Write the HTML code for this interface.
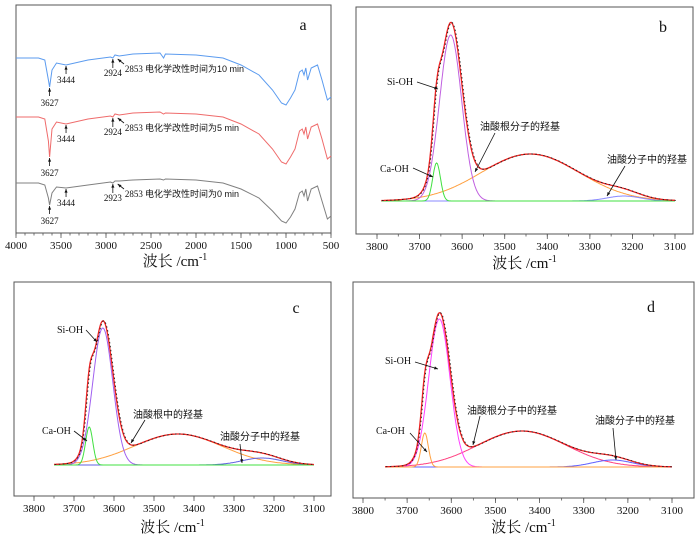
<!DOCTYPE html>
<html><head><meta charset="utf-8">
<style>
html,body{margin:0;padding:0;background:#fff;}
svg{display:block;}
text{font-family:"Liberation Serif","Noto Serif CJK SC","Noto Sans CJK SC",serif;fill:#111;}
.cn{font-family:"Liberation Sans","Noto Sans CJK SC",sans-serif;}
</style></head>
<body>
<svg id="fig" width="700" height="540" viewBox="0 0 700 540" xmlns="http://www.w3.org/2000/svg"></svg>
<script>
// ---------- Panel a data ----------
const aWave = [4000,3750,3680,3640,3627,3600,3550,3444,3200,2950,2924,2900,2853,2700,2400,2360,2340,2000,1700,1500,1300,1150,1050,1000,950,900,850,820,800,780,760,720,650,600,540,500];
const aBlue = [175,175,173,153,146,163,170,168,173,176,175,178,177,179,180,175,179,178,175,168,158,143,130,128,135,143,161,163,158,165,153,165,168,153,133,136];
const aRed  = [116,116,114,92,76,104,111,109,114,117,116,119,118,120,121,119,120,119,116,109,99,84,71,69,76,84,102,104,99,106,94,106,109,94,74,77];
const aGray = [50,50,48,35,28,40,46,45,48,51,50,52,52,53,54,53,54,53,50,44,35,22,12,10,16,24,40,42,37,44,32,44,47,32,14,17];
const aTicks = [4000,3500,3000,2500,2000,1500,1000,500];
const fitTicks = [3800,3700,3600,3500,3400,3300,3200,3100];
// ---------- Fit panels: peak centers, heights, widths ----------
const bCenters = [3627,3660,3440,3220];
const bHeights = [166,38,47,5];
const bWidths  = [26,9,115,40];
const cCenters = [3628,3662,3440,3230];
const cHeights = [137,38,31,7];
const cWidths  = [25,9,110,50];
const dCenters = [3627,3660,3440,3235];
const dHeights = [148,34,36,7];
const dWidths  = [24,8,100,45];

const NS='http://www.w3.org/2000/svg';
const svg=document.getElementById('fig');
function mk(tag,attrs,parent){const e=document.createElementNS(NS,tag);for(const k in attrs)e.setAttribute(k,attrs[k]);(parent||svg).appendChild(e);return e;}
function lin(d0,d1,r0,r1){return v=>r0+(v-d0)*(r1-r0)/(d1-d0);}
function txt(x,y,s,size,parent,anchor,cls){const t=mk('text',{x:x,y:y,'font-size':size,'text-anchor':anchor||'start'},parent);if(cls)t.setAttribute('class',cls);t.textContent=s;return t;}
function arrow(x1,y1,x2,y2,g){
  const l=mk('line',{x1:x1,y1:y1,x2:x2,y2:y2,stroke:'#111','stroke-width':0.8},g);
  
  
  const a=Math.atan2(y2-y1,x2-x1),s=4;
  const p=mk('polygon',{points:`${x2},${y2} ${x2-s*Math.cos(a-0.4)},${y2-s*Math.sin(a-0.4)} ${x2-s*Math.cos(a+0.4)},${y2-s*Math.sin(a+0.4)}`,fill:'#111'},g);
  
  
}
function frame(g,x0,y0,x1,y1,xs,ticks,minorStep,lo,hi){
  const r=mk('rect',{x:x0,y:y0,width:x1-x0,height:y1-y0,fill:'none',stroke:'#555','stroke-width':1},g);
  
  
  const ax=mk('g',{},g);
  
  
  for(let v=lo;v>=hi;v-=minorStep){mk('line',{x1:xs(v),x2:xs(v),y1:y1,y2:y1+2.5,stroke:'#555','stroke-width':0.8},ax);}
  ticks.forEach(v=>{mk('line',{x1:xs(v),x2:xs(v),y1:y1,y2:y1+5,stroke:'#555','stroke-width':0.8},ax);
    const t=txt(xs(v),y1+16,String(v),11,ax,'middle');
    
    });
}
function title(g,x,y){
  const t=mk('text',{x:x,y:y,'font-size':15,'text-anchor':'middle'},g);
  
  
  t.innerHTML='波长 /cm<tspan font-size="10" dy="-6">-1</tspan>';
}
function pathFrom(xsArr,ysArr,color,w,g,name,dash){
  let d='';xsArr.forEach((x,i)=>{d+=(i?'L':'M')+x.toFixed(1)+','+ysArr[i].toFixed(1);});
  const p=mk('path',{d:d,fill:'none',stroke:color,'stroke-width':w},g);
  if(dash)p.setAttribute('stroke-dasharray',dash);
  
  
  return p;
}

// ---------- Panel a ----------
(function(){
  const g=mk('g',{});
  
  
  const xs=lin(4000,500,16,331), ys=lin(0,228,233,5);
  frame(g,16,5,331,233,xs,aTicks,100,4000,500);
  title(g,175,266);
  const t=txt(303,30,'a',16,g,'middle');
  const px=aWave.map(xs);
  pathFrom(px,aBlue.map(ys),'#5b9bef',1,g,'spectrum-10min');
  pathFrom(px,aRed.map(ys),'#ef6b6b',1,g,'spectrum-5min');
  pathFrom(px,aGray.map(ys),'#808080',1,g,'spectrum-0min');
  const sets=[[aBlue,'2924','电化学改性时间为10 min'],[aRed,'2924','电化学改性时间为5 min'],[aGray,'2923','电化学改性时间为0 min']];
  sets.forEach(([arr,lab,name])=>{
    const yd=ys(arr[4]), y44=ys(arr[7]);
    arrow(xs(3627),yd+9,xs(3627),yd+1,g);txt(xs(3627),yd+19,'3627',9,g,'middle');
    arrow(xs(3444),y44+9,xs(3444),y44+1,g);txt(xs(3444),y44+18,'3444',9,g,'middle');
    const y24=ys(arr[10]);
    arrow(xs(2924),y24+10,xs(2924),y24+1,g);txt(xs(2924),y24+18,lab,9,g,'middle');
    arrow(xs(2800),y24+6,xs(2870),y24+1,g);txt(xs(2790),y24+14,'2853',9,g,'start');
    const tl=txt(145,y24+14,name,9,g,'start','cn');
    
    
  });
})();

// ---------- Fit panels ----------
function fitPanel(name,label,box,C,H,W,colors,tstart,labels,titleY,labelPos){
  const g=mk('g',{});
  
  
  const [x0,y0,x1,y1,xa,xb,base]=box;
  const xs=lin(3800,3100,xa,xb), ys=lin(0,100,base,base-100);
  frame(g,x0,y0,x1,y1,xs,fitTicks,50,3800,3100);
  title(g,(x0+x1)/2,titleY);
  const t=txt(labelPos[0],labelPos[1],label,16,g,'middle');
  const wv=[];for(let v=tstart;v>=3100;v-=2)wv.push(v);
  const px=wv.map(xs);
  const comp=(i,v)=>H[i]*Math.exp(-0.5*Math.pow((v-C[i])/W[i],2));
  const names=['si-oh-component','ca-oh-component','oleate-oh-component','oleic-acid-oh-component'];
  [2,3,0,1].forEach(i=>{
    pathFrom(px,wv.map(v=>ys(comp(i,v))),colors[i],1,g,names[i]);
  });
  const sum=wv.map(v=>C.reduce((s,_,i)=>s+comp(i,v),0));
  pathFrom(px,sum.map(ys),'#ee2222',1.3,g,'fitted-curve');
  pathFrom(px.map(x=>x+0.8),sum.map(ys),'#222',0.9,g,'experimental-curve','1.5,2.5');
  labels.forEach(([s,tx,ty,ax1,ay1,ax2,ay2,cn])=>{
    const l=txt(tx,ty,s,10,g,'start',cn?'cn':null);
    
    
    arrow(ax1,ay1,ax2,ay2,g);
  });
}
fitPanel('panel-b','b',[356,7,693,234,377,675,201],bCenters,bHeights,bWidths,
  ['#c060e0','#40e040','#ffa040','#8888ff'],3790,
  [['Si-OH',387,85,417,82,438,89,false],['Ca-OH',380,172,413,168,433,177,false],
   ['油酸根分子的羟基',480,130,495,133,475,172,true],['油酸分子中的羟基',607,163,625,166,607,196,true]],268,[663,32]);
fitPanel('panel-c','c',[14,282,331,496,34,314,465],cCenters,cHeights,cWidths,
  ['#a060f0','#40e040','#ffa040','#6060e0'],3750,
  [['Si-OH',57,333,86,330,97,342,false],['Ca-OH',42,434,74,431,87,441,false],
   ['油酸根中的羟基',133,418,145,420,131,443,true],['油酸分子中的羟基',220,440,240,444,242,463,true]],532,[296,313]);
fitPanel('panel-d','d',[353,282,694,498,363,672,467],dCenters,dHeights,dWidths,
  ['#ff40ff','#ffa040','#ff4080','#6060ff'],3750,
  [['Si-OH',385,364,415,362,438,369,false],['Ca-OH',376,434,410,433,427,452,false],
   ['油酸根分子中的羟基',467,414,480,416,473,445,true],['油酸分子中的羟基',595,424,613,428,616,460,true]],532,[651,312]);
</script>
</body></html>
